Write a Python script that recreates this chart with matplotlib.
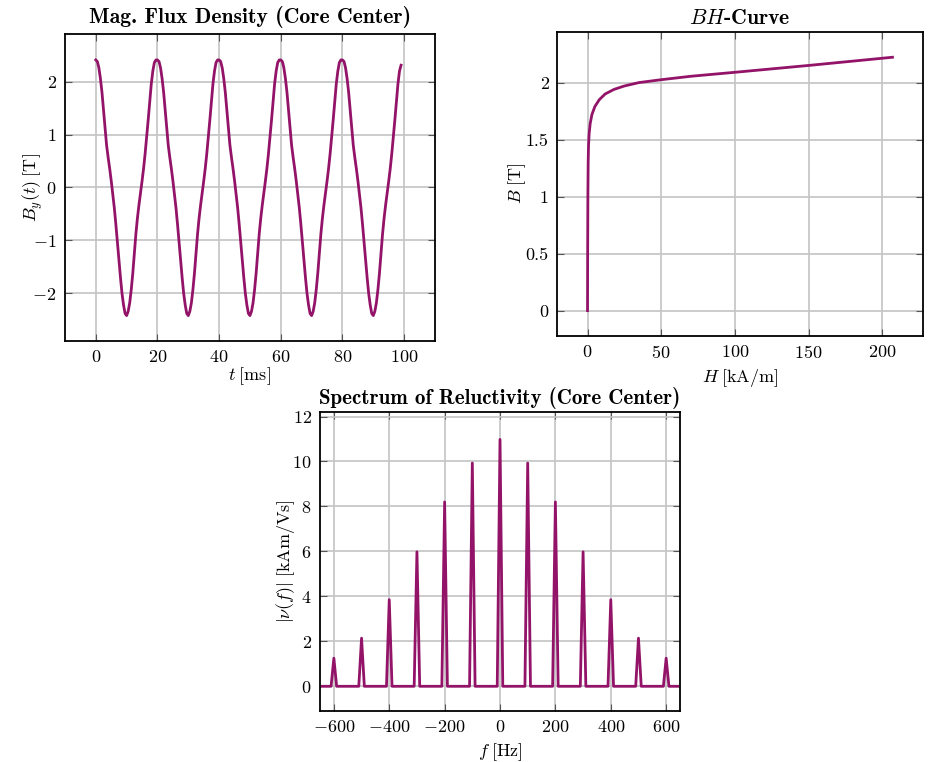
import numpy as np
import matplotlib
matplotlib.use("Agg")
import matplotlib.pyplot as plt

# flux density in the core center, sampled every 0.5 ms
t_ms = np.arange(0, 99.5, 0.5)
b_y = [
    2.41, 2.38, 2.26, 2.06, 1.80, 1.46, 1.10, 0.80, 0.57, 0.36,
    0.13, -0.12, -0.38, -0.69, -1.03, -1.38, -1.70, -2.00, -2.22, -2.38,
    -2.42, -2.34, -2.18, -1.93, -1.62, -1.26, -0.88, -0.58, -0.33, -0.11,
    0.12, 0.36, 0.64, 0.95, 1.28, 1.62, 1.96, 2.20, 2.36, 2.41,
    2.41, 2.38, 2.26, 2.06, 1.80, 1.46, 1.10, 0.80, 0.57, 0.36,
    0.13, -0.12, -0.38, -0.69, -1.03, -1.38, -1.70, -2.00, -2.22, -2.38,
    -2.42, -2.34, -2.18, -1.93, -1.62, -1.26, -0.88, -0.58, -0.33, -0.11,
    0.12, 0.36, 0.64, 0.95, 1.28, 1.62, 1.96, 2.20, 2.36, 2.41,
    2.41, 2.38, 2.26, 2.06, 1.80, 1.46, 1.10, 0.80, 0.57, 0.36,
    0.13, -0.12, -0.38, -0.69, -1.03, -1.38, -1.70, -2.00, -2.22, -2.38,
    -2.42, -2.34, -2.18, -1.93, -1.62, -1.26, -0.88, -0.58, -0.33, -0.11,
    0.12, 0.36, 0.64, 0.95, 1.28, 1.62, 1.96, 2.20, 2.36, 2.41,
    2.41, 2.38, 2.26, 2.06, 1.80, 1.46, 1.10, 0.80, 0.57, 0.36,
    0.13, -0.12, -0.38, -0.69, -1.03, -1.38, -1.70, -2.00, -2.22, -2.38,
    -2.42, -2.34, -2.18, -1.93, -1.62, -1.26, -0.88, -0.58, -0.33, -0.11,
    0.12, 0.36, 0.64, 0.95, 1.28, 1.62, 1.96, 2.20, 2.36, 2.41,
    2.41, 2.38, 2.26, 2.06, 1.80, 1.46, 1.10, 0.80, 0.57, 0.36,
    0.13, -0.12, -0.38, -0.69, -1.03, -1.38, -1.70, -2.00, -2.22, -2.38,
    -2.42, -2.34, -2.18, -1.93, -1.62, -1.26, -0.88, -0.58, -0.33, -0.11,
    0.12, 0.36, 0.64, 0.95, 1.28, 1.62, 1.96, 2.20, 2.31,
]

# BH curve
h_kam = [0, 0.1, 0.25, 0.45, 0.7, 1.1, 1.8, 3, 5, 8, 12, 18, 25, 35,
         50, 70, 100, 150, 207]
b_t = [0, 0.5, 1.0, 1.3, 1.45, 1.55, 1.64, 1.72, 1.79, 1.85, 1.90, 1.94,
       1.97, 2.0, 2.025, 2.055, 2.09, 2.15, 2.222]

# reluctivity spectrum, 10 Hz resolution
f_hz = np.arange(-700, 710, 10)
peak_f = [-600, -500, -400, -300, -200, -100, 0, 100, 200, 300, 400, 500, 600]
peak_nu = [1.25, 2.14, 3.85, 5.98, 8.2, 9.93, 10.98, 9.93, 8.2, 5.98, 3.85, 2.14, 1.25]

nu_abs = np.zeros(len(f_hz))
for f, v in zip(peak_f, peak_nu):
    nu_abs[f_hz == f] = v

COLOR = "#921368"
LW = 2.0

plt.rcParams.update({
    "font.family": "serif",
    "font.serif": ["cmr10"],
    "mathtext.fontset": "cm",
    "axes.formatter.use_mathtext": True,
    "font.size": 13,
    "axes.linewidth": 1.3,
    "xtick.direction": "in",
    "ytick.direction": "in",
    "xtick.top": True,
    "ytick.right": True,
    "xtick.color": "#555555",
    "ytick.color": "#555555",
    "xtick.labelcolor": "black",
    "ytick.labelcolor": "black",
    "xtick.major.size": 5,
    "ytick.major.size": 5,
    "xtick.major.pad": 6,
    "ytick.major.pad": 6,
    "grid.color": "#c4c4c4",
    "grid.linewidth": 1.2,
})


def style(ax):
    ax.grid(True)
    ax.set_axisbelow(True)
    for s in ax.spines.values():
        s.set_color("black")


fig = plt.figure(figsize=(9.36, 7.62), dpi=100)

ax1 = fig.add_axes([0.0694, 0.5525, 0.3953, 0.4029])
ax1.plot(t_ms, b_y, color=COLOR, lw=LW)
ax1.set_xlim(-10, 110)
ax1.set_ylim(-2.9, 2.9)
ax1.set_xticks([0, 20, 40, 60, 80, 100])
ax1.set_yticks([-2, -1, 0, 1, 2])
ax1.set_xlabel(r"$t\;[\mathrm{ms}]$", labelpad=0)
ax1.set_ylabel(r"$B_y(t)\;[\mathrm{T}]$")
ax1.yaxis.set_label_coords(-0.055, 0.5)
ax1.set_title("Mag. Flux Density (Core Center)", fontfamily="cmb10", pad=8)
style(ax1)

ax2 = fig.add_axes([0.5951, 0.5591, 0.391, 0.399])
ax2.plot(h_kam, b_t, color=COLOR, lw=LW)
ax2.set_xlim(-20.7, 227.7)
ax2.set_ylim(-0.222, 2.444)
ax2.set_xticks([0, 50, 100, 150, 200])
ax2.set_yticks([0, 0.5, 1, 1.5, 2])
ax2.set_yticklabels(["0", "0.5", "1", "1.5", "2"])
ax2.set_xlabel(r"$H\;[\mathrm{kA/m}]$", labelpad=4)
ax2.set_ylabel(r"$B\;[\mathrm{T}]$")
ax2.yaxis.set_label_coords(-0.08, 0.5)
ax2.set_title(r"$BH$-Curve", fontfamily="cmb10", pad=6)
style(ax2)

ax3 = fig.add_axes([0.3419, 0.0669, 0.3846, 0.3924])
ax3.plot(f_hz, nu_abs, color=COLOR, lw=LW)
ax3.set_xlim(-650, 650)
ax3.set_ylim(-1.1, 12.2)
ax3.set_xticks([-600, -400, -200, 0, 200, 400, 600])
ax3.set_yticks([0, 2, 4, 6, 8, 10, 12])
ax3.set_xlabel(r"$f\;[\mathrm{Hz}]$", labelpad=4)
ax3.set_ylabel(r"$|\nu(f)|\;[\mathrm{kAm/Vs}]$")
ax3.yaxis.set_label_coords(-0.065, 0.5)
ax3.set_title("Spectrum of Reluctivity (Core Center)", fontfamily="cmb10",
              fontsize=15.1, pad=6)
style(ax3)

fig.savefig("out.png", dpi=100)
